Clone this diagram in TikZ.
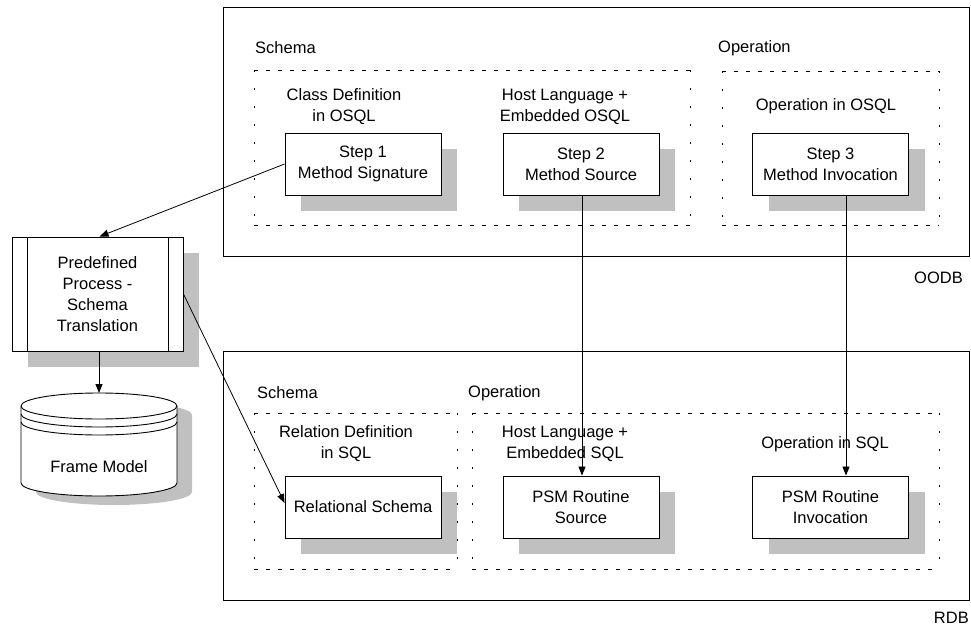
\documentclass[tikz,border=0pt]{standalone}
\usepackage{fontspec}
\setmainfont{Liberation Sans}
\usetikzlibrary{arrows.meta,shadows,calc}
\definecolor{shadowgray}{RGB}{192,192,192}
\tikzset{
  lbl/.style={inner sep=0pt, font=\fontsize{16.5}{21}\selectfont, align=center},
  stepbox/.style={draw, fill=white, line width=0.9pt, minimum width=156pt, minimum height=62pt,
     inner sep=0pt, font=\fontsize{16.5}{21}\selectfont, align=center,
     drop shadow={shadow xshift=16pt, shadow yshift=-16pt, fill=shadowgray, opacity=1}},
  frame/.style={draw, line width=0.9pt},
  hdash/.style={line width=0.9pt, dash pattern=on 4pt off 8pt},
  vdash/.style={line width=0.9pt, dash pattern=on 2pt off 16pt},
  conn/.style={line width=0.8pt, -{Triangle[length=9pt,width=7pt]}}
}
\begin{document}
\begin{tikzpicture}[x=1pt,y=-1pt]
\useasboundingbox (0,0) rectangle (971,628);
% outer frames
\draw[frame] (223,7) rectangle (969,256);
\draw[frame] (223,351) rectangle (969,600);
\node[lbl, anchor=east] (oodb) at (963,278) {OODB};
\node[lbl, anchor=east] (rdb) at (969,618) {RDB};
% top dashed groups
\draw[hdash] (254,70) -- (690,70) (254,225) -- (690,225);
\draw[vdash] (254,70) -- (254,225) (690,70) -- (690,225);
\draw[hdash] (722,71) -- (939,71) (722,225) -- (939,225);
\draw[vdash] (722,71) -- (722,225) (939,71) -- (939,225);
% bottom dashed groups
\draw[hdash] (254,413) -- (457,413) (254,569) -- (457,569);
\draw[vdash] (254,413) -- (254,569) (457,413) -- (457,569);
\draw[hdash] (472,413) -- (939,413) (472,569) -- (939,569);
\draw[vdash] (472,413) -- (472,569) (939,413) -- (939,569);
% group labels
\node[lbl, anchor=west] (tschema) at (255,48) {Schema};
\node[lbl, anchor=west] (toper) at (718,48) {Operation};
\node[lbl, anchor=west] (bschema) at (257,393) {Schema};
\node[lbl, anchor=west] (boper) at (468,393) {Operation};
\node[lbl] (cdef) at (344,107) {Class Definition\\in OSQL};
\node[lbl] (hlo) at (565,107) {Host Language +\\Embedded OSQL};
\node[lbl] (oio) at (826,106) {Operation in OSQL};
\node[lbl] (rdef) at (346,444) {Relation Definition\\in SQL};
\node[lbl] (hls) at (565,444) {Host Language +\\Embedded SQL};
\node[lbl] (ois) at (825,444) {Operation in SQL};
% step boxes
\node[stepbox] (s1) at (363,164) {Step 1\\Method Signature};
\node[stepbox] (s2) at (581,164) {Step 2\\Method Source};
\node[stepbox] (s3) at (830.5,164) {Step 3\\Method Invocation};
\node[stepbox] (rs) at (363,507) {Relational Schema};
\node[stepbox] (psms) at (581,507) {PSM Routine\\Source};
\node[stepbox] (psmi) at (830.5,507) {PSM Routine\\Invocation};
% predefined process
\node[draw, fill=white, line width=0.9pt, minimum width=171pt, minimum height=114pt, inner sep=0pt,
      font=\fontsize{16.5}{21}\selectfont, align=center,
      drop shadow={shadow xshift=16pt, shadow yshift=-16pt, fill=shadowgray, opacity=1}]
      (pp) at (97.5,294) {Predefined\\Process -\\Schema\\Translation};
\draw[line width=0.9pt] ([xshift=16pt]pp.north west) -- ([xshift=16pt]pp.south west);
\draw[line width=0.9pt] ([xshift=-15pt]pp.north east) -- ([xshift=-15pt]pp.south east);
% cylinder (frame model)
\fill[shadowgray] (36,415) -- (36,492) arc[start angle=180,end angle=360,x radius=78pt,y radius=13pt]
   -- (192,415) arc[start angle=0,end angle=180,x radius=78pt,y radius=13pt] -- cycle;
\filldraw[fill=white, line width=0.9pt] (21,406) -- (21,483) arc[start angle=180,end angle=360,x radius=78pt,y radius=13pt]
   -- (177,406) arc[start angle=0,end angle=180,x radius=78pt,y radius=13pt] -- cycle;
\draw[line width=0.9pt] (21,406) arc[start angle=180,end angle=360,x radius=78pt,y radius=13pt];
\draw[line width=0.9pt] (21,414) arc[start angle=180,end angle=360,x radius=78pt,y radius=13pt];
\draw[line width=0.9pt] (21,422) arc[start angle=180,end angle=360,x radius=78pt,y radius=13pt];
\coordinate (cyltop) at (99,393);
\node[lbl] (fm) at (99,467) {Frame Model};
% connectors
\draw[conn] (s1.west) -- ([xshift=2pt]pp.north);
\draw[conn] (pp.south -| cyltop) -- (cyltop);
\draw[conn] (pp.east) -- ([yshift=4pt]rs.west);
\draw[conn] ([xshift=1pt]s2.south) -- ([xshift=1pt]psms.north);
\draw[conn] ([xshift=15.5pt]s3.south) -- ([xshift=15.5pt]psmi.north);
\end{tikzpicture}
\end{document}
